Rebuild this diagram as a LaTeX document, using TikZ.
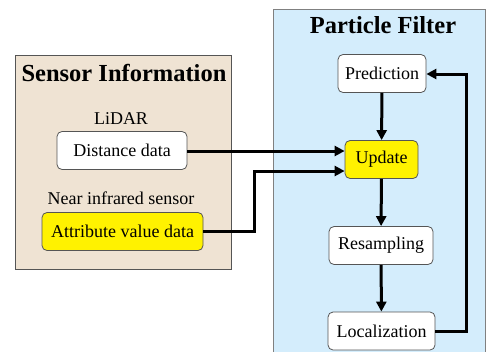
\documentclass[tikz,border=0pt]{standalone}
\usepackage{fontspec}
\setmainfont{Liberation Serif}
\usetikzlibrary{arrows.meta}
\definecolor{sensorbg}{HTML}{EFE3D3}
\definecolor{pfbg}{HTML}{D4EDFC}
\definecolor{edgegray}{HTML}{555555}
\tikzset{
  procbox/.style={draw=edgegray, line width=0.8pt, rounded corners=5pt, fill=white,
    minimum height=38pt, inner sep=0pt, font=\fontsize{18}{20}\selectfont},
  hlbox/.style={procbox, fill=yellow},
  flow/.style={line width=3pt, -{Triangle[length=10pt,width=10pt]}},
  plain/.style={font=\fontsize{18}{20}\selectfont},
  titletext/.style={font=\fontsize{24.5}{26}\selectfont\bfseries}
}
\begin{document}
\begin{tikzpicture}[x=1pt,y=-1pt]
\useasboundingbox (0,0) rectangle (486,351);
\clip (0,0) rectangle (486,351);
\fill[white] (0,0) rectangle (486,351);
% panels
\draw[draw=edgegray, line width=1pt, fill=sensorbg] (15,55) rectangle (231,269);
\draw[draw=gray, line width=1pt, fill=pfbg] (273.5,9.5) rectangle (485.5,360);
\node[titletext] (stitle) at (124,73) {Sensor Information};
\node[titletext] (ptitle) at (383,25) {Particle Filter};
% sensor side
\node[plain] (lidar) at (121,119) {LiDAR};
\node[procbox, minimum width=130pt] (dist) at (122,150.5) {Distance data};
\node[plain] (nir) at (121,198) {Near infrared sensor};
\node[hlbox, minimum width=161pt] (attr) at (122.5,231.5) {Attribute value data};
% filter side
\node[procbox, minimum width=88pt] (pred) at (382,73.5) {Prediction};
\node[hlbox, minimum width=73pt] (upd) at (381.5,159.5) {Update};
\node[procbox, minimum width=104pt] (res) at (381,245.5) {Resampling};
\node[procbox, minimum width=107pt] (loc) at (381.5,331) {Localization};
% connectors
\draw[flow] (dist.east |- 0,151) -- (upd.west |- 0,151);
\draw[flow] (attr.east |- 0,231) -- (254,231) -- (254,171) -- (upd.west |- 0,171);
\draw[flow] (pred) -- (upd);
\draw[flow] (upd) -- (res);
\draw[flow] (res) -- (loc);
\draw[flow] (loc.east) -- (466,331) -- (466,74) -- (pred.east |- 0,74);
\end{tikzpicture}
\end{document}
